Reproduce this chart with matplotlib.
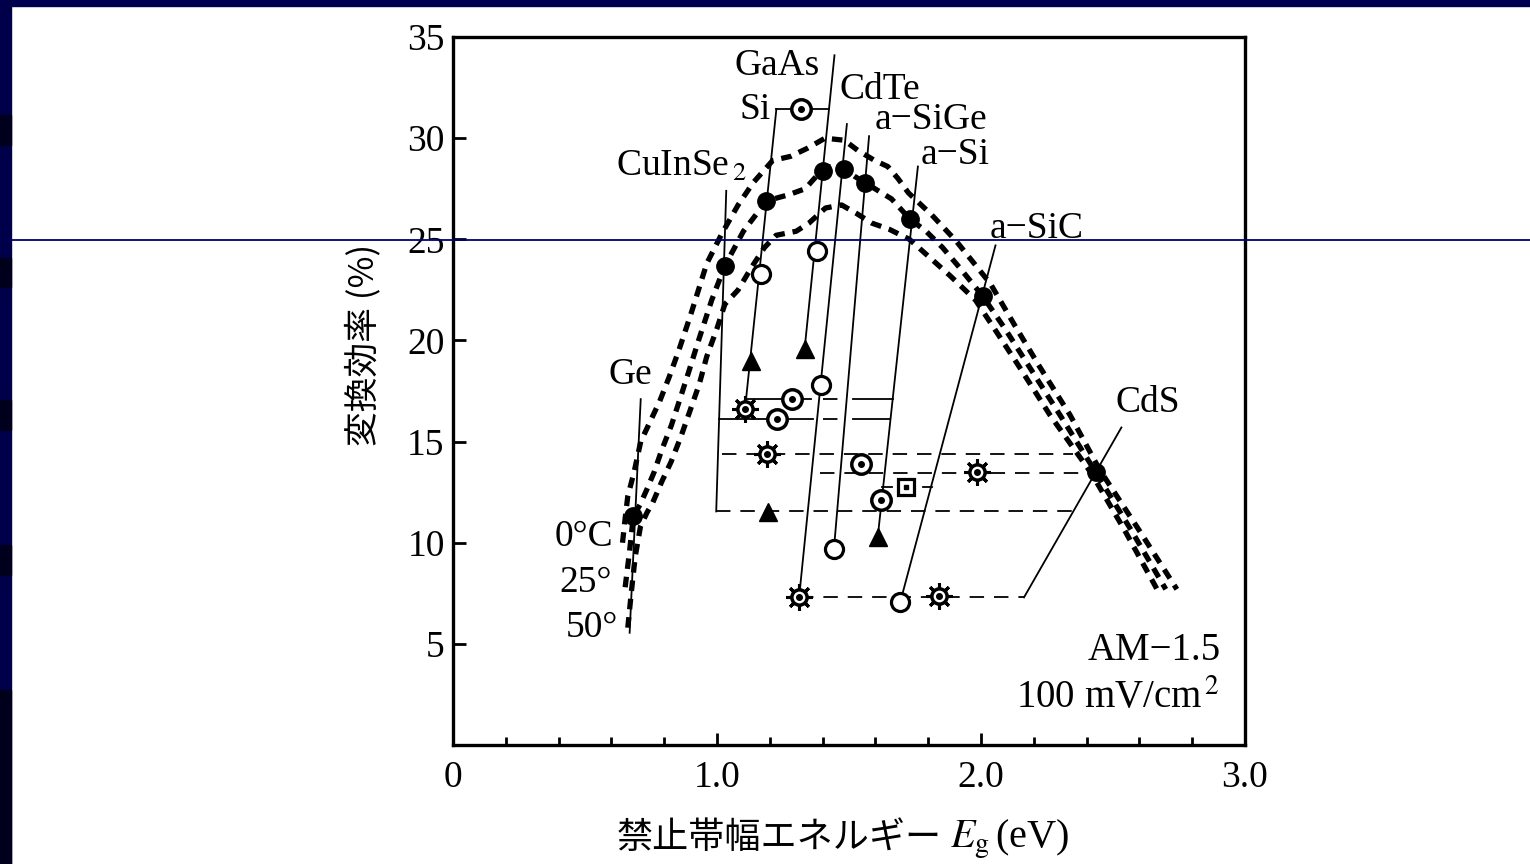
import numpy as np
import matplotlib
matplotlib.use("Agg")
import matplotlib.pyplot as plt
from matplotlib.patches import Rectangle
from matplotlib.lines import Line2D

plt.rcParams["font.family"] = ["Liberation Serif", "Noto Sans CJK JP"]
plt.rcParams["mathtext.fontset"] = "stix"

# theoretical efficiency curves (Eg in eV, efficiency in %)
eg_0c = [0.642, 0.652, 0.662, 0.686, 0.711, 0.747, 0.783, 0.819, 0.855, 0.901, 0.961, 1.019,
         1.08, 1.137, 1.211, 1.278, 1.342, 1.409, 1.482, 1.533, 1.597, 1.647, 1.686, 1.725,
         1.814, 1.907, 2.036, 2.13, 2.22, 2.338, 2.45, 2.60, 2.742]
eff_0c = [10.0, 11.2, 12.3, 13.5, 15.0, 16.0, 17.0, 18.2, 19.5, 21.3, 23.8, 25.3,
          26.7, 27.8, 28.9, 29.1, 29.5, 30.0, 29.9, 29.4, 28.9, 28.6, 28.0, 27.3,
          26.2, 24.9, 22.8, 20.7, 18.75, 16.3, 13.6, 10.6, 7.7]

eg_25c = [0.652, 0.668, 0.683, 0.709, 0.733, 0.762, 0.791, 0.827, 0.862, 0.894, 0.93, 0.98,
          1.03, 1.10, 1.187, 1.27, 1.334, 1.382, 1.42, 1.48, 1.523, 1.561, 1.611, 1.661,
          1.731, 1.792, 1.854, 1.919, 2.006, 2.09, 2.183, 2.30, 2.434, 2.57, 2.70]
eff_25c = [7.8, 9.5, 11.3, 11.9, 12.6, 13.5, 14.6, 15.8, 17.2, 18.5, 20.0, 22.0,
           23.7, 25.4, 26.9, 27.2, 27.5, 28.2, 28.6, 28.5, 28.1, 27.8, 27.4, 27.0,
           26.0, 25.4, 24.6, 23.6, 22.2, 20.6, 18.7, 16.3, 13.5, 10.6, 7.7]

eg_50c = [0.662, 0.675, 0.69, 0.71, 0.735, 0.757, 0.79, 0.826, 0.862, 0.897, 0.933, 0.961,
          1.0, 1.03, 1.08, 1.13, 1.18, 1.224, 1.30, 1.348, 1.411, 1.472, 1.526, 1.587,
          1.652, 1.729, 1.806, 1.883, 1.979, 2.05, 2.145, 2.262, 2.42, 2.545, 2.667]
eff_50c = [5.8, 7.5, 9.3, 10.8, 11.5, 12.0, 13.0, 14.0, 15.2, 16.5, 17.85, 19.2,
           20.6, 21.8, 22.5, 23.6, 24.6, 25.2, 25.4, 25.8, 26.55, 26.7, 26.3, 25.8,
           25.5, 25.0, 24.1, 23.2, 22.0, 20.6, 18.7, 16.3, 13.4, 10.6, 7.7]

# theoretical points of each material
theory_eg = [0.683, 1.030, 1.187, 1.401, 1.480, 1.561, 1.731, 2.006, 2.434]
theory_eff = [11.3, 23.7, 26.9, 28.4, 28.5, 27.8, 26.0, 22.2, 13.5]

# measured cells
open_eg = [1.167, 1.377, 1.395, 1.443, 1.694]
open_eff = [23.3, 24.4, 17.8, 9.7, 7.06]
tri_eg = [1.128, 1.332, 1.194, 1.609]
tri_eff = [19.0, 19.6, 11.5, 10.3]
dot_eg = [1.320, 1.283, 1.228, 1.546, 1.620]
dot_eff = [31.45, 17.1, 16.1, 13.9, 12.1]
sun_eg = [1.106, 1.189, 1.986, 1.311, 1.841]
sun_eff = [16.6, 14.4, 13.5, 7.3, 7.35]
sq_eg = [1.715]
sq_eff = [12.75]

# leader lines: (x0, y0, x1, y1)
leaders = {
    "Ge": (0.711, 17.1, 0.669, 5.55),
    "CuInSe2": (1.035, 27.4, 0.997, 11.55),
    "Si": (1.225, 31.45, 1.106, 16.6),
    "GaAs": (1.445, 34.1, 1.332, 19.6),
    "CdTe": (1.492, 30.7, 1.311, 7.3),
    "a-SiGe": (1.576, 30.1, 1.443, 9.7),
    "a-Si": (1.761, 28.6, 1.609, 10.3),
    "a-SiC": (2.055, 24.7, 1.694, 7.06),
    "CdS": (2.532, 15.7, 2.163, 7.3),
    "bracket": (1.225, 31.45, 1.424, 31.45),
}
# horizontal connectors: (x0, x1, y)
solid_links = [(1.109, 1.355, 17.1), (1.514, 1.665, 17.1),
               (1.008, 1.364, 16.1), (1.514, 1.656, 16.1),
               (1.624, 1.662, 12.75), (1.78, 1.815, 12.75)]
dash_links = [(1.40, 1.469, 17.1), (1.40, 1.469, 16.1),
              (1.02, 2.35, 14.4), (1.39, 2.434, 13.45),
              (0.997, 2.35, 11.55), (1.311, 2.163, 7.3)]

x_ticks = [0, 1, 2, 3]
x_tick_labels = ["0", "1.0", "2.0", "3.0"]
x_minor = [0.2, 0.4, 0.6, 0.8, 1.2, 1.4, 1.6, 1.8, 2.2, 2.4, 2.6, 2.8]
y_ticks = [5, 10, 15, 20, 25, 30, 35]

fig = plt.figure(figsize=(15.3, 8.64), dpi=100)
ax = fig.add_axes([0.2961, 0.1377, 0.5176, 0.8194])

# slide frame
navy = "#000050"
fig.patches.append(Rectangle((0, 0.9935), 1, 0.0065, transform=fig.transFigure, color=navy, zorder=0))
fig.patches.append(Rectangle((0, 0), 0.0072, 1, transform=fig.transFigure, color="#00004a", zorder=0))
for y0, y1 in [(115, 145), (258, 287), (400, 430), (545, 575), (690, 864)]:
    fig.patches.append(Rectangle((0, 1 - y1 / 864), 0.0072, (y1 - y0) / 864,
                                 transform=fig.transFigure, color="#00001c", zorder=1))

for x0, y0, x1, y1 in leaders.values():
    ax.plot([x0, x1], [y0, y1], color="k", lw=1.3, zorder=2)
for x0, x1, y in solid_links:
    ax.plot([x0, x1], [y, y], color="k", lw=1.3, zorder=2)
for x0, x1, y in dash_links:
    ax.plot([x0, x1], [y, y], color="k", lw=1.3, ls=(0, (8, 5.5)), zorder=2)

for xs, ys in [(eg_0c, eff_0c), (eg_25c, eff_25c), (eg_50c, eff_50c)]:
    ax.plot(xs, ys, color="k", lw=3.8, ls=(0, (2.0, 1.5)), zorder=3)

ax.plot(theory_eg, theory_eff, ls="none", marker="o", ms=12.5, color="k", zorder=6)
ax.plot(open_eg, open_eff, ls="none", marker="o", ms=13, mfc="white", mec="k", mew=2.3, zorder=6)
ax.plot(tri_eg, tri_eff, ls="none", marker="^", ms=13, color="k", zorder=6)
ax.plot(dot_eg, dot_eff, ls="none", marker="o", ms=14, mfc="white", mec="k", mew=2.5, zorder=6)
ax.plot(dot_eg, dot_eff, ls="none", marker="o", ms=4, color="k", zorder=7)
ax.plot(sun_eg, sun_eff, ls="none", marker=(8, 2, 0), ms=19, mew=2.2, color="k", zorder=6)
ax.plot(sun_eg, sun_eff, ls="none", marker="o", ms=11, mfc="white", mec="k", mew=2.5, zorder=7)
ax.plot(sun_eg, sun_eff, ls="none", marker="o", ms=4, color="k", zorder=8)
ax.plot(sq_eg, sq_eff, ls="none", marker="s", ms=12, mfc="white", mec="k", mew=2.3, zorder=6)
ax.plot(sq_eg, sq_eff, ls="none", marker="s", ms=3.5, color="k", zorder=7)

fs = 27
ax.text(1.226, 33.6, "GaAs", fontsize=fs, ha="center", va="center")
ax.text(1.205, 31.4, "Si", fontsize=fs, ha="right", va="center")
ax.text(1.463, 32.4, "CdTe", fontsize=fs, ha="left", va="center")
ax.text(1.598, 30.9, "a\u2212SiGe", fontsize=fs, ha="left", va="center")
ax.text(1.771, 29.2, "a\u2212Si", fontsize=fs, ha="left", va="center")
ax.text(0.866, 28.6, r"CuInSe$_{\,2}$", fontsize=fs, ha="center", va="center")
ax.text(2.031, 25.5, "a\u2212SiC", fontsize=fs, ha="left", va="center")
ax.text(0.671, 18.3, "Ge", fontsize=fs, ha="center", va="center")
ax.text(2.633, 16.9, "CdS", fontsize=fs, ha="center", va="center")
ax.text(0.608, 10.3, "0°C", fontsize=fs, ha="right", va="center")
ax.text(0.603, 8.0, "25°", fontsize=fs, ha="right", va="center")
ax.text(0.626, 5.8, "50°", fontsize=fs, ha="right", va="center")
ax.text(2.907, 4.67, "AM\u22121.5", fontsize=28, ha="right", va="center")
ax.text(2.905, 2.34, r"100 mV/cm$^{\,2}$", fontsize=28, ha="right", va="center")

ax.set_xlim(0, 3)
ax.set_ylim(0, 35)
ax.set_xticks(x_ticks)
ax.set_xticklabels(x_tick_labels)
ax.set_xticks(x_minor, minor=True)
ax.set_yticks(y_ticks)
ax.tick_params(which="major", direction="in", length=9, width=2, labelsize=27)
ax.tick_params(which="minor", direction="in", length=6, width=2)
ax.tick_params(axis="x", pad=11)
ax.tick_params(axis="y", pad=6)
for sp in ax.spines.values():
    sp.set_linewidth(2.4)

ax.set_ylabel("変換効率 (%)", fontsize=25, family=["Noto Sans CJK JP"])
ax.yaxis.set_label_coords(-0.09, 0.565)
fig.text(0.6157, 0.030, "禁止帯幅エネルギー", fontsize=26, family=["Noto Sans CJK JP"],
         ha="right", va="center")
fig.text(0.621, 0.028, r"$E_{\mathrm{g}}\,$(eV)", fontsize=29, ha="left", va="center")

fig.add_artist(Line2D([0.0072, 1], [0.7222, 0.7222], transform=fig.transFigure,
                      color="#000070", lw=1.3, zorder=20))

fig.savefig("out.png", dpi=100)
